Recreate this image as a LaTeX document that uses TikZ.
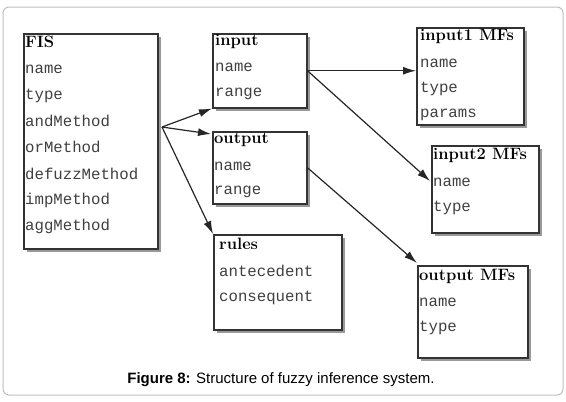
\documentclass[tikz,border=0pt]{standalone}
\usepackage{fontspec}
\newfontfamily\capfont{Liberation Sans}
\newfontfamily\itemfont{Liberation Mono}
\usetikzlibrary{arrows.meta,shadows,positioning,calc}
\colorlet{box line}{black!80}
\tikzstyle{box} = [draw=box line,line width=1.5pt,fill=white,anchor=north west,inner sep=0pt,
  drop shadow={shadow xshift=3.5pt,shadow yshift=-3.5pt,fill=black!40,opacity=1}]
\tikzstyle{title} = [anchor=west,inner sep=0pt,font=\fontsize{16.5}{17}\selectfont\bfseries]
\tikzstyle{item} = [anchor=west,inner sep=0pt,text=black!75,font=\itemfont\fontsize{15.7}{16}\selectfont]
\tikzstyle{link} = [black!85,line width=1.2pt,-{Latex[length=13pt,width=8pt]}]

\begin{document}
\begin{tikzpicture}[x=1pt,y=-1pt]
        \useasboundingbox (0,0) rectangle (566,402);
        \draw[black!25,line width=1pt,rounded corners=6pt] (3,7) rectangle (563,395);

        % boxes
        \node[box,minimum width=134pt,minimum height=215pt] (fis) at (23,33) {};
        \node[box,minimum width=94pt,minimum height=74pt] (input) at (212,33) {};
        \node[box,minimum width=94pt,minimum height=72pt] (output) at (212,131) {};
        \node[box,minimum width=128pt,minimum height=95pt] (rules) at (213,234) {};
        \node[box,minimum width=107pt,minimum height=97pt] (in1mf) at (416,27) {};
        \node[box,minimum width=107pt,minimum height=87pt] (in2mf) at (431,145) {};
        \node[box,minimum width=110pt,minimum height=92pt] (outmf) at (417,265) {};

        % FIS
        \node[title] (fist) at (25,42) {FIS};
        \node[item] (fis1) at (25,69) {name};
        \node[item] (fis2) at (25,96) {type};
        \node[item] (fis3) at (25,121) {andMethod};
        \node[item] (fis4) at (25,147) {orMethod};
        \node[item] (fis5) at (25,174) {defuzzMethod};
        \node[item] (fis6) at (25,200) {impMethod};
        \node[item] (fis7) at (25,226) {aggMethod};

        % input / output / rules
        \node[title] (inputt) at (215,41) {input};
        \node[item] (input1) at (215,67) {name};
        \node[item] (input2) at (215,94) {range};
        \node[title] (outputt) at (214,140) {output};
        \node[item] (output1) at (214,166) {name};
        \node[item] (output2) at (214,192) {range};
        \node[title] (rulest) at (219,244) {rules};
        \node[item] (rules1) at (219,271) {antecedent};
        \node[item] (rules2) at (219,298) {consequent};

        % membership functions
        \node[title] (in1mft) at (420,36) {input1 MFs};
        \node[item] (in1mf1) at (420,63) {name};
        \node[item] (in1mf2) at (420,89) {type};
        \node[item] (in1mf3) at (420,115) {params};
        \node[title] (in2mft) at (433,155) {input2 MFs};
        \node[item] (in2mf1) at (433,182) {name};
        \node[item] (in2mf2) at (433,208) {type};
        \node[title] (outmft) at (419,276) {output MFs};
        \node[item] (outmf1) at (419,302) {name};
        \node[item] (outmf2) at (419,328) {type};

        % links
        \coordinate (fork) at (162,127);
        \draw[link] (fork) to (input.south west);
        \draw[link] (fork) to ($(output.north west)+(-1,3)$);
        \draw[link] (fork) to (rules.north west);
        \draw[link] (input.east) to (input.east -| in1mf.west);
        \draw[link] (input.east) to ($(in2mf.north west)+(-1,36)$);
        \draw[link] (output.east) to ($(outmf.north west)+(0,-2)$);

        \node[font=\capfont\fontsize{15}{16}\selectfont] (caption) at (281,380)
          {\textbf{Figure 8:} Structure of fuzzy inference system.};
\end{tikzpicture}
\end{document}
